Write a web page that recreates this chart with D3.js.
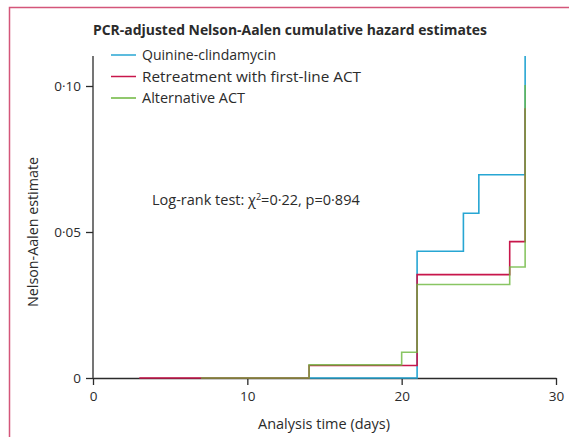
<!DOCTYPE html>
<meta charset="utf-8">
<style>
body { margin: 0; background: #fff; }
text { font-family: "Open Sans", "Noto Sans", sans-serif; fill: #2b2b2b; }
.axis text { font-size: 13.5px; font-family: "Open Sans", sans-serif; fill: #2b2b2b; }
.axis path, .axis line { stroke: #2b2b2b; stroke-width: 1.3; }
</style>
<svg width="569" height="437"></svg>
<script src="https://d3js.org/d3.v7.min.js"></script>
<script>

// series: [day, cumulative hazard]
var quinine = [[14, 0], [21, 0.0434], [24, 0.0564], [25, 0.0696], [28, 0.1103]];
var retreat = [[3, 0], [14, 0.0043], [21, 0.0354], [27, 0.0467], [28, 0.0924]];
var altAct  = [[7, 0], [14, 0.0045], [20, 0.0088], [21, 0.0320], [27, 0.0380], [28, 0.1003]];

var seriesNames = ["Quinine-clindamycin", "Retreatment with first-line ACT", "Alternative ACT"];
var seriesColors = ["#27a6d3", "#c8164b", "#6cb63c"];
var xTicks = [0, 10, 20, 30];
var yTicks = [0, 0.05, 0.10];

var svg = d3.select("svg");

// pink frame (top + left edges)
svg.append("path")
  .attr("d", "M9.5,437V7.5H569")
  .attr("fill", "none")
  .attr("stroke", "#d4567a")
  .attr("stroke-width", 1.5);

var x = d3.scaleLinear().domain([0, 30]).range([93, 556]);
var y = d3.scaleLinear().domain([0, 0.1]).range([378, 86]);

// axes
svg.append("g")
  .attr("class", "axis")
  .attr("transform", "translate(0,378)")
  .call(d3.axisBottom(x).tickValues(xTicks).tickSizeInner(7).tickSizeOuter(0).tickPadding(4))
  .call(function(g) { g.selectAll("text").attr("dy", "0.9em"); });

var fmtY = function(d) { return d === 0 ? "0" : d3.format(".2f")(d).replace(".", "\u00b7"); };
var yAxis = svg.append("g")
  .attr("class", "axis")
  .attr("transform", "translate(93,0)")
  .call(d3.axisLeft(y).tickValues(yTicks).tickFormat(fmtY).tickSizeInner(7).tickSizeOuter(0).tickPadding(5));
// extend axis line up to the top of the data
yAxis.select(".domain").attr("d", "M0," + y(0) + "V" + y(0.1103));

// step lines
var line = d3.line()
  .x(function(d) { return x(d[0]); })
  .y(function(d) { return y(d[1]); })
  .curve(d3.curveStepAfter);

var all = [quinine, retreat, altAct];
all.forEach(function(s, i) {
  svg.append("path")
    .datum(s)
    .attr("d", line)
    .attr("fill", "none")
    .attr("stroke", seriesColors[i])
    .attr("stroke-width", 1.6)
    .attr("stroke-opacity", i === 2 ? 0.8 : 1);
});

// title
svg.append("text")
  .attr("x", 93).attr("y", 35)
  .attr("font-size", 14.5).attr("font-weight", "bold")
  .attr("textLength", 394).attr("lengthAdjust", "spacingAndGlyphs")
  .text("PCR-adjusted Nelson-Aalen cumulative hazard estimates");

// legend
var legW = [134, 219, 103];
seriesNames.forEach(function(n, i) {
  var ly = 55 + i * 21.5;
  svg.append("line")
    .attr("x1", 111).attr("x2", 136)
    .attr("y1", ly).attr("y2", ly)
    .attr("stroke", seriesColors[i]).attr("stroke-width", 1.5);
  svg.append("text")
    .attr("x", 142).attr("y", ly + 5)
    .attr("font-size", 14.5)
    .attr("textLength", legW[i]).attr("lengthAdjust", "spacingAndGlyphs")
    .text(n);
});

// log-rank annotation
var lr = svg.append("text")
  .attr("x", 152).attr("y", 205)
  .attr("font-size", 14.5);
lr.append("tspan").text("Log-rank test: \u03c7");
lr.append("tspan").attr("font-size", 9).attr("dy", -5).text("2");
lr.append("tspan").attr("dy", 5).text("=0\u00b722, p=0\u00b7894");

// axis titles
svg.append("text")
  .attr("x", 324).attr("y", 429)
  .attr("text-anchor", "middle")
  .attr("font-size", 14.5)
  .attr("textLength", 132).attr("lengthAdjust", "spacingAndGlyphs")
  .text("Analysis time (days)");

svg.append("text")
  .attr("transform", "translate(38,232) rotate(-90)")
  .attr("text-anchor", "middle")
  .attr("font-size", 14.5)
  .attr("textLength", 150).attr("lengthAdjust", "spacingAndGlyphs")
  .text("Nelson-Aalen estimate");

</script>
